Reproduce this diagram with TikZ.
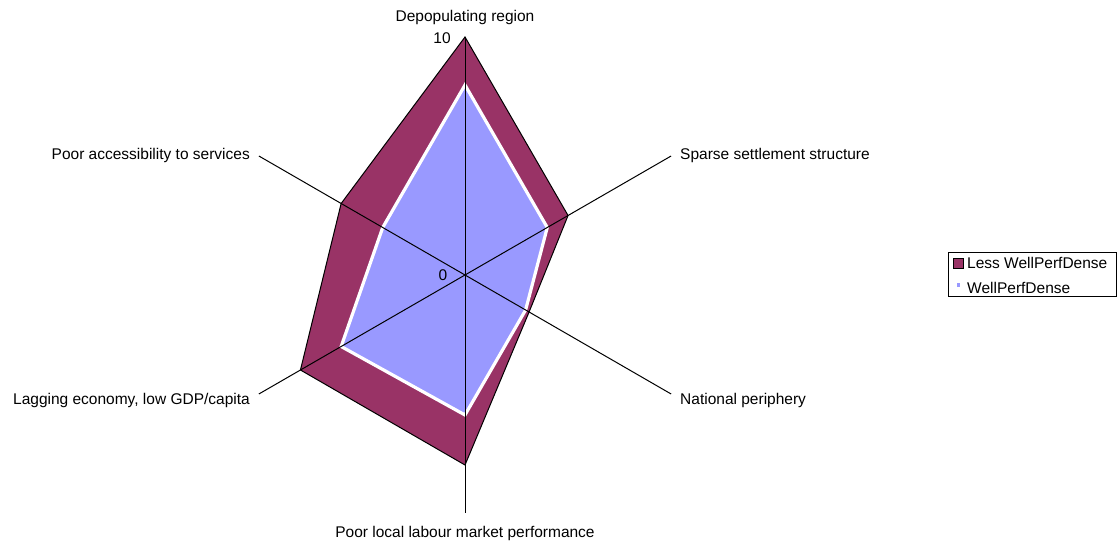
\documentclass[tikz,border=0pt]{standalone}
\usepackage{fontspec}
\setmainfont{Liberation Sans}
\definecolor{maroon}{HTML}{993366}
\definecolor{lav}{HTML}{9999FF}
\begin{document}
\begin{tikzpicture}[x=1pt,y=1pt,
  lbl/.style={font=\fontsize{15.5}{18}\selectfont, inner sep=0pt},
  lessfill/.style={fill=maroon, draw=black, line width=1pt, line join=miter},
  wellfill/.style={fill=lav, draw=white, line width=3.2pt, line join=miter},
  axisline/.style={draw=black, line width=1pt}]
\useasboundingbox (0,0) rectangle (1117,543);
\begin{scope}[shift={(465,268)}]
  \coordinate (o) at (0,0);
  \foreach \n/\a in {1/90,2/30,3/-30,4/-90,5/-150,6/150}
    \coordinate (a\n) at (\a:238);
  % Less WellPerfDense
  \path[lessfill] (90:238) -- (30:119) -- (-30:74) -- (-90:190) -- (-150:190) -- (150:143) -- cycle;
  % WellPerfDense
  \path[wellfill] (90:190) -- (30:95) -- (-30:70) -- (-90:140) -- (-150:143) -- (150:95) -- cycle;
  \foreach \n in {1,...,6}
    \draw[axisline] (o) -- (a\n);
\end{scope}
\node[lbl] (t1) at (465,525) {Depopulating region};
\node[lbl] (t10) at (442,505) {10};
\node[lbl] (t0) at (443,268) {0};
\node[lbl, anchor=west] (t2) at (680,388) {Sparse settlement structure};
\node[lbl, anchor=west] (t3) at (680,143) {National periphery};
\node[lbl] (t4) at (465,10) {Poor local labour market performance};
\node[lbl, anchor=east] (t5) at (250,143) {Lagging economy, low GDP/capita};
\node[lbl, anchor=east] (t6) at (250,388) {Poor accessibility to services};
% legend
\draw[line width=1pt] (948,246) rectangle (1116,290);
\node[draw=black, fill=maroon, line width=0.8pt, minimum size=10pt, inner sep=0pt] (k1) at (958.5,280) {};
\node[lbl, anchor=west] (l1) at (967,280) {Less WellPerfDense};
\node[fill=lav, minimum size=3.5pt, inner sep=0pt] (k2) at (958.5,258) {};
\node[lbl, anchor=west] (l2) at (967,255) {WellPerfDense};
\end{tikzpicture}
\end{document}
